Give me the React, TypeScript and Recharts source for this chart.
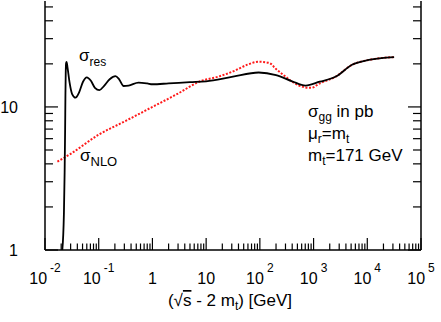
import { Line, LineChart, XAxis, YAxis } from "recharts";

// sigma_res (solid black)
const resX = [
  0.021, 0.0225, 0.0232, 0.0237, 0.024, 0.0243, 0.0247, 0.0252, 0.0262, 0.0285, 0.032, 0.037, 0.043,
  0.051, 0.06, 0.071, 0.085, 0.103, 0.125, 0.16, 0.205, 0.24, 0.29, 0.36, 0.55, 0.8, 1, 2, 5, 10, 30,
  95, 200, 400, 710, 1300, 2600, 5200, 10700, 31600,
];
const resY = [
  1, 1.8, 3.5, 7, 12, 17, 20.2, 20.6, 19, 15, 12.3, 11.6, 12.6, 15, 16.1, 15.3, 13.6, 13.1, 14, 15.6,
  16.4, 15.6, 14, 14.1, 14.8, 14.6, 14.4, 14.6, 14.9, 15.1, 16.2, 17.4, 16.7, 15.1, 14.1, 15, 16.3,
  19.7, 21.3, 22.3,
];

// sigma_NLO (red dotted)
const nloX = [0.017, 0.03, 0.1, 0.3, 1, 3, 7.4, 17, 31.6, 60, 95, 150, 200, 300, 400, 700, 900, 1300, 2600, 5200, 10700, 31600];
const nloY = [4.15, 4.7, 6.4, 7.9, 10, 12.4, 15, 16.3, 17.7, 19.8, 20.7, 20.3, 18.4, 16.3, 15, 13.7, 13.6, 14.6, 16.3, 19.7, 21.3, 22.3];

const xDecades = [0.01, 0.1, 1, 10, 100, 1000, 10000, 100000];
const xDecadeLabels = ["-2", "-1", "1", "10", "2", "3", "4", "5"];
const yMajor = [1, 10];
const yMajorLabels = ["1", "10"];
const minorSteps = [2, 3, 4, 5, 6, 7, 8, 9];

const resData = resX.map((x, i) => ({ x, y: resY[i] }));
const nloData = nloX.map((x, i) => ({ x, y: nloY[i] }));

const xTicks: number[] = [];
xDecades.forEach((d, i) => {
  xTicks.push(d);
  if (i < xDecades.length - 1) minorSteps.forEach((k) => xTicks.push(+(k * d).toPrecision(6)));
});
const yTicks = [1, 2, 3, 4, 5, 6, 7, 8, 9, 10, 20, 30, 40, 50];

const FONT = "'Liberation Sans', Arial, sans-serif";
const isMajor = (v: number) => Math.abs(Math.log10(v) - Math.round(Math.log10(v))) < 1e-6;

function BottomTick(props: any) {
  const { x, y, payload } = props;
  const v = payload.value;
  const major = isMajor(v);
  const idx = xDecades.findIndex((d) => Math.abs(d - v) / d < 1e-6);
  const lab = idx >= 0 ? xDecadeLabels[idx] : "";
  const sup = major && v !== 1 && v !== 10;
  return (
    <g>
      <line x1={x} x2={x} y1={y} y2={y - (major ? 12 : 6.5)} stroke="#000" strokeWidth={1.2} />
      {major && (
        <text x={x} y={y + 34} textAnchor="middle" fontFamily={FONT} fontSize={16} fill="#000">
          {sup ? (
            <>
              <tspan>10</tspan>
              <tspan dx={3} dy={-12} fontSize={12}>
                {lab}
              </tspan>
            </>
          ) : (
            lab
          )}
        </text>
      )}
    </g>
  );
}

function TopTick(props: any) {
  const { x, y, payload } = props;
  const major = isMajor(payload.value);
  return <line x1={x} x2={x} y1={y} y2={y + (major ? 11 : 6)} stroke="#000" strokeWidth={1.2} />;
}

function LeftTick(props: any) {
  const { x, y, payload } = props;
  const v = payload.value;
  const major = isMajor(v);
  const idx = yMajor.indexOf(v);
  return (
    <g>
      <line x1={x} x2={x + (major ? 13 : 8)} y1={y} y2={y} stroke="#000" strokeWidth={1.2} />
      {idx >= 0 && (
        <text x={18} y={y + 6} textAnchor="end" fontFamily={FONT} fontSize={16} fill="#000">
          {yMajorLabels[idx]}
        </text>
      )}
    </g>
  );
}

function RightTick(props: any) {
  const { x, y, payload } = props;
  const major = isMajor(payload.value);
  return <line x1={x} x2={x - (major ? 13 : 8)} y1={y} y2={y} stroke="#000" strokeWidth={1.2} />;
}

const axisLine = { stroke: "#000", strokeWidth: 1.5 };

export default function App() {
  return (
    <div style={{ position: "absolute", left: 0, top: 0, width: 441, height: 322, background: "#fff" }}>
      <LineChart width={441} height={322} margin={{ top: 1, right: 0, bottom: 0, left: 0 }}>
        <XAxis
          dataKey="x"
          type="number"
          scale="log"
          domain={[0.01, 100000]}
          allowDataOverflow
          ticks={xTicks}
          interval={0}
          tickSize={0}
          tickMargin={0}
          tick={<BottomTick />}
          axisLine={axisLine}
          height={72}
        />
        <XAxis
          xAxisId="top"
          orientation="top"
          dataKey="x"
          type="number"
          scale="log"
          domain={[0.01, 100000]}
          allowDataOverflow
          ticks={xTicks}
          interval={0}
          tickSize={0}
          tickMargin={0}
          tick={<TopTick />}
          axisLine={axisLine}
          height={0}
        />
        <YAxis
          type="number"
          scale="log"
          domain={[1, 55]}
          allowDataOverflow
          ticks={yTicks}
          interval={0}
          tickSize={0}
          tickMargin={0}
          tick={<LeftTick />}
          axisLine={axisLine}
          width={45}
        />
        <YAxis
          yAxisId="right"
          orientation="right"
          type="number"
          scale="log"
          domain={[1, 55]}
          allowDataOverflow
          ticks={yTicks}
          interval={0}
          tickSize={0}
          tickMargin={0}
          tick={<RightTick />}
          axisLine={axisLine}
          width={20}
        />
        <Line
          data={nloData}
          dataKey="y"
          type="monotone"
          stroke="#ff1a1a"
          strokeWidth={2}
          strokeDasharray="2 1.6"
          dot={false}
          isAnimationActive={false}
        />
        <Line
          data={resData}
          dataKey="y"
          type="monotone"
          stroke="#000"
          strokeWidth={1.8}
          dot={false}
          isAnimationActive={false}
        />
      </LineChart>
      <svg
        width={441}
        height={322}
        style={{ position: "absolute", left: 0, top: 0, pointerEvents: "none" }}
        fontFamily={FONT}
        fill="#000"
      >
        <text x={79} y={61} fontSize={17}>
          σ<tspan fontSize={12} dy={5}>res</tspan>
        </text>
        <text x={80} y={161} fontSize={17}>
          σ<tspan fontSize={13} dy={5}>NLO</tspan>
        </text>
        <text x={308} y={117} fontSize={17}>
          σ<tspan fontSize={12} dy={4}>gg</tspan>
          <tspan dy={-4}> in pb</tspan>
        </text>
        <text x={308} y={139} fontSize={17}>
          μ<tspan fontSize={12} dy={4}>r</tspan>
          <tspan dy={-4}>=m</tspan>
          <tspan fontSize={12} dy={4}>t</tspan>
        </text>
        <text x={308} y={161} fontSize={17}>
          m<tspan fontSize={12} dy={4}>t</tspan>
          <tspan dy={-4}>=171 GeV</tspan>
        </text>
        <text x={230} y={306} fontSize={17} textAnchor="middle">
          (√<tspan textDecoration="overline">s</tspan> - 2 m<tspan fontSize={12} dy={4}>t</tspan>
          <tspan dy={-4}>) [GeV]</tspan>
        </text>
      </svg>
    </div>
  );
}
